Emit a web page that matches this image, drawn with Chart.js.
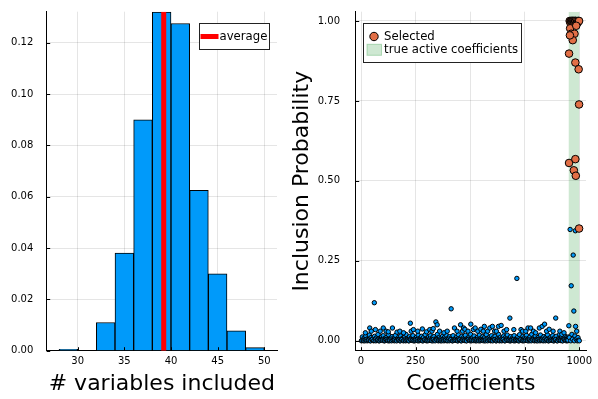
<!DOCTYPE html>
<html>
<head>
<meta charset="utf-8">
<script src="https://cdn.jsdelivr.net/npm/chart.js@4.4.0/dist/chart.umd.min.js"></script>
<style>
  body { margin: 0; background: #fff; }
  canvas { position: absolute; top: 0; }
  #hist { left: 0; }
  #coef { left: 290px; }
</style>
</head>
<body>
<canvas id="hist" width="290" height="399"></canvas>
<canvas id="coef" width="308" height="399"></canvas>
<script>
// --- left panel: histogram of model sizes ---
const binCenters = [29, 31, 33, 35, 37, 39, 41, 43, 45, 47, 49];
const binDensity = [0.0005, 0, 0.011, 0.038, 0.090, 0.132, 0.1275, 0.0625, 0.030, 0.0077, 0.0012];
const averageIncluded = 39.22;
const histXTicks = [30, 35, 40, 45, 50];
const histYTicks = [0, 0.02, 0.04, 0.06, 0.08, 0.10, 0.12];

// --- right panel: inclusion probability per coefficient, [index, prob] ---
// coefficients that sit on the floor
const nearZero = [
  [2,0],[10,0.002],[18,0],[26,0.004],[34,0.001],[42,0],[50,0.003],[58,0],[66,0.005],[74,0.001],
  [82,0],[90,0.002],[98,0.004],[106,0],[114,0.001],[122,0.003],[130,0],[138,0.005],[146,0.002],[154,0],
  [162,0.001],[170,0.004],[178,0],[186,0.002],[194,0],[202,0.003],[210,0.001],[218,0],[226,0.005],[234,0.002],
  [242,0],[250,0.001],[258,0.004],[266,0],[274,0.002],[282,0],[290,0.003],[298,0.001],[306,0],[314,0.005],
  [322,0.002],[330,0],[338,0.001],[346,0.004],[354,0],[362,0.002],[370,0],[378,0.003],[386,0.001],[394,0],
  [402,0.005],[410,0.002],[418,0],[426,0.001],[434,0.004],[442,0],[450,0.002],[458,0],[466,0.003],[474,0.001],
  [482,0],[490,0.005],[498,0.002],[506,0],[514,0.001],[522,0.004],[530,0],[538,0.002],[546,0],[554,0.003],
  [562,0.001],[570,0],[578,0.005],[586,0.002],[594,0],[602,0.001],[610,0.004],[618,0],[626,0.002],[634,0],
  [642,0.003],[650,0.001],[658,0],[666,0.005],[674,0.002],[682,0],[690,0.001],[698,0.004],[706,0],[714,0.002],
  [722,0],[730,0.003],[738,0.001],[746,0],[754,0.005],[762,0.002],[770,0],[778,0.001],[786,0.004],[794,0],
  [802,0.002],[810,0],[818,0.003],[826,0.001],[834,0],[842,0.005],[850,0.002],[858,0],[866,0.001],[874,0.004],
  [882,0],[890,0.002],[898,0],[906,0.003],[914,0.001],[922,0],[930,0.005],[938,0.002],[946,0],
  [4,0.001],[12,0],[20,0.003],[28,0],[36,0.002],[44,0],[52,0.004],[60,0.001],[68,0],[76,0.002],
  [84,0],[92,0.003],[100,0.001],[108,0],[116,0.004],[124,0],[132,0.002],[140,0],[148,0.001],[156,0.003],
  [164,0],[172,0.002],[180,0],[188,0.004],[196,0.001],[204,0],[212,0.002],[220,0],[228,0.003],[236,0.001],
  [244,0],[252,0.004],[260,0],[268,0.002],[276,0.001],[284,0],[292,0.003],[300,0],[308,0.002],[316,0.001],
  [324,0],[332,0.004],[340,0],[348,0.002],[356,0.001],[364,0],[372,0.003],[380,0],[388,0.002],[396,0.001],
  [404,0],[412,0.004],[420,0],[428,0.002],[436,0.001],[444,0],[452,0.003],[460,0],[468,0.002],[476,0.001],
  [484,0],[492,0.004],[500,0],[508,0.002],[516,0.001],[524,0],[532,0.003],[540,0],[548,0.002],[556,0.001],
  [564,0],[572,0.004],[580,0],[588,0.002],[596,0.001],[604,0],[612,0.003],[620,0],[628,0.002],[636,0.001],
  [644,0],[652,0.004],[660,0],[668,0.002],[676,0.001],[684,0],[692,0.003],[700,0],[708,0.002],[716,0.001],
  [724,0],[732,0.004],[740,0],[748,0.002],[756,0.001],[764,0],[772,0.003],[780,0],[788,0.002],[796,0.001],
  [804,0],[812,0.004],[820,0],[828,0.002],[836,0.001],[844,0],[852,0.003],[860,0],[868,0.002],[876,0.001],
  [884,0],[892,0.004],[900,0],[908,0.002],[916,0.001],[924,0],[932,0.003],[940,0],[948,0.002]
];
// the thin layer just above the floor
const lowBand = [
  [6,0.012],[14,0.008],[22,0.015],[30,0.006],[38,0.018],[46,0.01],[54,0.007],[62,0.014],[70,0.009],[78,0.02],
  [86,0.006],[94,0.012],[102,0.016],[110,0.008],[118,0.011],[126,0.019],[134,0.007],[142,0.013],[150,0.009],[158,0.017],
  [166,0.006],[174,0.012],[182,0.015],[190,0.008],[198,0.01],[206,0.02],[214,0.007],[222,0.013],[230,0.009],[238,0.016],
  [246,0.006],[254,0.011],[262,0.018],[270,0.008],[278,0.014],[286,0.01],[294,0.019],[302,0.007],[310,0.012],[318,0.016],
  [326,0.009],[334,0.013],[342,0.006],[350,0.02],[358,0.011],[366,0.008],[374,0.015],[382,0.01],[390,0.018],[398,0.007],
  [406,0.013],[414,0.009],[422,0.016],[430,0.006],[438,0.012],[446,0.019],[454,0.008],[462,0.014],[470,0.01],[478,0.017],
  [486,0.007],[494,0.012],[502,0.02],[510,0.009],[518,0.015],[526,0.006],[534,0.011],[542,0.018],[550,0.008],[558,0.013],
  [566,0.01],[574,0.019],[582,0.007],[590,0.012],[598,0.016],[606,0.009],[614,0.014],[622,0.006],[630,0.02],[638,0.011],
  [646,0.008],[654,0.015],[662,0.01],[670,0.018],[678,0.007],[686,0.013],[694,0.009],[702,0.016],[710,0.006],[718,0.012],
  [726,0.019],[734,0.008],[742,0.014],[750,0.01],[758,0.017],[766,0.007],[774,0.012],[782,0.02],[790,0.009],[798,0.015],
  [806,0.006],[814,0.011],[822,0.018],[830,0.008],[838,0.013],[846,0.01],[854,0.019],[862,0.007],[870,0.012],[878,0.016],
  [886,0.009],[894,0.014],[902,0.006],[910,0.02],[918,0.011],[926,0.008],[934,0.015],[942,0.01],[950,0.012]
];
// points standing out of the band
const raised = [
  [20,0.025],[40,0.04],[47,0.03],[61,0.119],[66,0.035],[88,0.03],[102,0.04],[115,0.03],[125,0.028],[144,0.04],
  [165,0.027],[178,0.03],[195,0.025],[226,0.055],[230,0.03],[240,0.035],[260,0.03],[281,0.037],[300,0.028],[315,0.035],
  [325,0.03],[331,0.038],[343,0.059],[349,0.05],[360,0.03],[380,0.025],[395,0.03],[413,0.10],[428,0.04],[440,0.03],
  [456,0.05],[465,0.03],[470,0.04],[476,0.036],[490,0.03],[503,0.052],[515,0.035],[523,0.04],[535,0.03],[549,0.036],
  [560,0.03],[565,0.045],[580,0.03],[590,0.04],[602,0.045],[612,0.03],[620,0.03],[630,0.045],[642,0.048],[655,0.03],
  [667,0.035],[682,0.071],[700,0.035],[714,0.195],[733,0.035],[740,0.03],[755,0.03],[765,0.04],[777,0.04],[790,0.03],
  [800,0.025],[817,0.04],[830,0.045],[841,0.052],[850,0.03],[862,0.036],[880,0.03],[892,0.071],[911,0.03],[920,0.02],[930,0.025]
];
// active block, not selected
const activeUnselected = [
  [952,0.047],[955,0.01],[958,0.348],[961,0],[963,0.172],[966,0.02],[969,0.005],[972,0.268],[975,0.093],[977,0],
  [980,0.015],[982,0.344],[983,0.045],[986,0.005],[988,0.03],[991,0],[994,0.01],[997,0.002],[1000,0]
];
const selectedPoints = [
  [956,1.0],[959,0.995],[961,1.0],[964,1.0],[966,0.998],[968,1.0],[971,1.0],[973,1.0],[976,0.997],[979,1.0],
  [981,1.0],[984,1.0],[987,0.99],[990,1.0],[993,0.995],[996,1.0],[999,1.0],
  [958,0.977],[963,0.96],[978,0.96],[986,0.985],[970,0.94],[957,0.955],
  [953,0.898],[982,0.87],[997,0.849],[999,0.739],
  [953,0.556],[982,0.568],[975,0.533],[984,0.516],[999,0.351]
];
const activeRange = [950.5, 1000.5];
const coefXTicks = [0, 250, 500, 750, 1000];
const coefYTicks = [0, 0.25, 0.5, 0.75, 1.0];

const histRange = { xmin: 26.68, xmax: 51.36, ymin: 0, ymax: 0.1321 };
const coefRange = { xmin: -24.3, xmax: 1030.7, ymin: -0.031, ymax: 1.029 };

Chart.defaults.font.family = "'DejaVu Sans', sans-serif";
Chart.defaults.color = '#000';

const gridStyle = { color: 'rgba(0,0,0,0.1)', lineWidth: 1, drawTicks: false };
const borderStyle = { display: true, color: '#000', width: 1 };
const toXY = p => ({ x: p[0], y: p[1] });

// fixed axis sizes; drop the label overhang so the plot area keeps its place
const fixWidth = w => s => { s.width = w; s.paddingTop = 0; s.paddingBottom = 0; };
const fixHeight = h => s => { s.height = h; };

// legend drawn inside the plot area like the Plots.jl one
const innerLegend = {
  id: 'innerLegend',
  afterDatasetsDraw(chart, args, opts) {
    const ctx = chart.ctx;
    const area = chart.chartArea;
    const left = opts.fromRight ? Math.round(area.right - opts.dx - opts.w) + 0.5 : Math.round(area.left + opts.dx) + 0.5;
    const top = Math.round(area.top + opts.dy) + 0.5;
    ctx.save();
    ctx.fillStyle = '#fff';
    ctx.strokeStyle = '#222';
    ctx.lineWidth = 1;
    ctx.fillRect(left, top, opts.w, opts.h);
    ctx.strokeRect(left, top, opts.w, opts.h);
    ctx.font = '11.7px "DejaVu Sans"';
    ctx.textBaseline = 'middle';
    opts.items.forEach((it, i) => {
      const y = top + opts.rowTop + i * opts.rowH;
      if (it.kind === 'line') {
        ctx.strokeStyle = it.color;
        ctx.lineWidth = 5;
        ctx.beginPath();
        ctx.moveTo(left + 1, y);
        ctx.lineTo(left + 19, y);
        ctx.stroke();
      } else if (it.kind === 'circle') {
        ctx.fillStyle = it.color;
        ctx.strokeStyle = '#000';
        ctx.lineWidth = 1;
        ctx.beginPath();
        ctx.arc(left + 10.5, y, 4.2, 0, Math.PI * 2);
        ctx.fill();
        ctx.stroke();
      } else {
        ctx.fillStyle = it.color;
        ctx.fillRect(left + 3.5, y - 5.5, 14.5, 11);
        ctx.strokeStyle = 'rgba(61,164,77,0.35)';
        ctx.lineWidth = 1;
        ctx.strokeRect(left + 3.5, y - 5.5, 14.5, 11);
      }
      ctx.fillStyle = '#000';
      ctx.fillText(it.label, left + opts.textX, y + 0.5);
    });
    ctx.restore();
  }
};

// small inward tick marks on both axes
const inwardTicks = {
  id: 'inwardTicks',
  afterDraw(chart) {
    const ctx = chart.ctx;
    const area = chart.chartArea;
    ctx.save();
    ctx.strokeStyle = '#000';
    ctx.lineWidth = 1;
    ctx.beginPath();
    chart.scales.x.ticks.forEach(t => {
      const px = Math.round(chart.scales.x.getPixelForValue(t.value)) + 0.5;
      ctx.moveTo(px, area.bottom);
      ctx.lineTo(px, area.bottom - 3.5);
    });
    chart.scales.y.ticks.forEach(t => {
      const py = Math.round(chart.scales.y.getPixelForValue(t.value)) + 0.5;
      ctx.moveTo(area.left, py);
      ctx.lineTo(area.left + 3.5, py);
    });
    ctx.stroke();
    ctx.restore();
  }
};

new Chart(document.getElementById('hist'), {
  type: 'bar',
  data: {
    datasets: [
      {
        type: 'line',
        label: 'average',
        data: [{ x: averageIncluded, y: histRange.ymin }, { x: averageIncluded, y: histRange.ymax }],
        borderColor: '#ff0000',
        borderWidth: 5,
        pointRadius: 0,
        order: 0
      },
      {
        label: 'y1',
        data: binCenters.map((c, i) => ({ x: c, y: binDensity[i] })),
        backgroundColor: '#009afa',
        borderColor: '#000',
        borderWidth: 1,
        barPercentage: 1,
        categoryPercentage: 1,
        order: 1
      }
    ]
  },
  options: {
    responsive: false,
    animation: false,
    devicePixelRatio: 1,
    layout: { padding: { top: 11.7, right: 13, left: 0, bottom: 0 } },
    plugins: {
      legend: { display: false },
      tooltip: { enabled: false },
      innerLegend: {
        fromRight: true, dx: 7.7, dy: 11, w: 70, h: 26, rowTop: 13, rowH: 13, textX: 20,
        items: [{ label: 'average', kind: 'line', color: '#ff0000' }]
      }
    },
    scales: {
      x: {
        type: 'linear',
        offset: false,
        min: histRange.xmin,
        max: histRange.xmax,
        afterBuildTicks: s => { s.ticks = histXTicks.map(v => ({ value: v })); },
        afterFit: fixHeight(48.3),
        grid: Object.assign({ offset: false }, gridStyle),
        border: borderStyle,
        ticks: { font: { size: 10 }, padding: 5, maxRotation: 0, callback: v => String(v) },
        title: { display: true, text: '# variables included', font: { size: 22 }, padding: { top: 0, bottom: 1.5 } }
      },
      y: {
        min: histRange.ymin,
        max: histRange.ymax,
        afterBuildTicks: s => { s.ticks = histYTicks.map(v => ({ value: v })); },
        afterFit: fixWidth(46.7),
        grid: gridStyle,
        border: borderStyle,
        ticks: { font: { size: 10 }, padding: 13.4, callback: v => v.toFixed(2) }
      }
    }
  },
  plugins: [innerLegend, inwardTicks]
});

// the floor points are drawn left to right so their outlines stack into a dark strip
const floorSorted = nearZero.slice().sort((a, b) => a[0] - b[0]);

new Chart(document.getElementById('coef'), {
  type: 'scatter',
  data: {
    datasets: [
      {
        label: 'Selected',
        data: selectedPoints.map(toXY),
        backgroundColor: '#e26f46',
        borderColor: '#000',
        borderWidth: 1,
        pointRadius: 3.8,
        order: 0
      },
      {
        label: 'y1',
        data: lowBand.concat(floorSorted, raised, activeUnselected, selectedPoints).map(toXY),
        backgroundColor: '#009afa',
        borderColor: '#000',
        borderWidth: 1,
        pointRadius: 2.2,
        order: 1
      },
      {
        type: 'line',
        label: 'true active coefficients',
        data: [{ x: activeRange[0], y: coefRange.ymax }, { x: activeRange[1], y: coefRange.ymax }],
        fill: 'start',
        backgroundColor: 'rgba(61,164,77,0.25)',
        borderColor: 'rgba(0,0,0,0)',
        borderWidth: 0,
        pointRadius: 0,
        order: 2
      }
    ]
  },
  options: {
    responsive: false,
    animation: false,
    devicePixelRatio: 1,
    layout: { padding: { top: 11.7, right: 12, left: 0, bottom: 0 } },
    plugins: {
      legend: { display: false },
      tooltip: { enabled: false },
      innerLegend: {
        fromRight: false, dx: 7, dy: 11, w: 158, h: 39, rowTop: 13, rowH: 13.3, textX: 20.6,
        items: [
          { label: 'Selected', kind: 'circle', color: '#e26f46' },
          { label: 'true active coefficients', kind: 'rect', color: 'rgba(61,164,77,0.25)' }
        ]
      }
    },
    scales: {
      x: {
        type: 'linear',
        min: coefRange.xmin,
        max: coefRange.xmax,
        afterBuildTicks: s => { s.ticks = coefXTicks.map(v => ({ value: v })); },
        afterFit: fixHeight(48.3),
        grid: gridStyle,
        border: borderStyle,
        ticks: { font: { size: 10 }, padding: 5, maxRotation: 0, callback: v => String(v) },
        title: { display: true, text: 'Coefficients', font: { size: 22 }, padding: { top: 0, bottom: 1.5 } }
      },
      y: {
        min: coefRange.ymin,
        max: coefRange.ymax,
        afterBuildTicks: s => { s.ticks = coefYTicks.map(v => ({ value: v })); },
        afterFit: fixWidth(65.7),
        grid: gridStyle,
        border: borderStyle,
        ticks: { font: { size: 10 }, padding: 15.7, callback: v => v.toFixed(2) },
        title: { display: true, text: 'Inclusion Probability', font: { size: 22, lineHeight: 1.0 }, padding: { top: 1, bottom: 0 } }
      }
    }
  },
  plugins: [innerLegend, inwardTicks]
});
</script>
</body>
</html>
